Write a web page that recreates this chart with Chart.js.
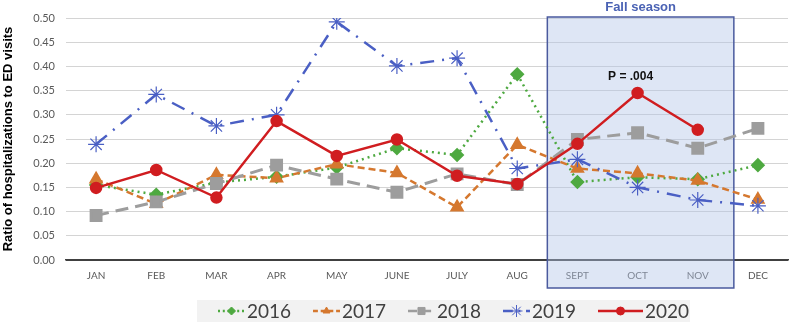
<!DOCTYPE html>
<html>
<head>
<meta charset="utf-8">
<script src="https://cdn.jsdelivr.net/npm/chart.js@4/dist/chart.umd.min.js"></script>
<style>
  html, body { margin: 0; padding: 0; background: #fff; overflow: hidden; }
  #wrap { width: 790px; height: 322px; position: relative; }
  #chart { display: block; }
</style>
</head>
<body>
<div id="wrap"><canvas id="chart"></canvas></div>
<script>
const months = ['JAN', 'FEB', 'MAR', 'APR', 'MAY', 'JUNE', 'JULY', 'AUG', 'SEPT', 'OCT', 'NOV', 'DEC'];

const y2016 = [0.155, 0.135, 0.160, 0.172, 0.191, 0.231, 0.217, 0.384, 0.161, 0.171, 0.167, 0.196];
const y2017 = [0.167, 0.116, 0.176, 0.169, 0.198, 0.180, 0.109, 0.238, 0.189, 0.179, 0.164, 0.125];
const y2018 = [0.092, 0.120, 0.158, 0.196, 0.167, 0.140, 0.178, 0.156, 0.249, 0.263, 0.231, 0.272];
const y2019 = [0.239, 0.342, 0.277, 0.300, 0.492, 0.401, 0.417, 0.189, 0.208, 0.150, 0.124, 0.112];
const y2020 = [0.149, 0.186, 0.129, 0.287, 0.215, 0.249, 0.174, 0.157, 0.240, 0.345, 0.269, null];

const yTicks = [0, 0.05, 0.10, 0.15, 0.20, 0.25, 0.30, 0.35, 0.40, 0.45, 0.50];

// fall season spans SEPT..NOV (category indexes)
const fallFrom = 7.5;
const fallTo = 10.6;
const pValueText = 'P = .004';
const pValueMonth = 9;

const tickFont = "Lato, 'Open Sans', sans-serif";

// shaded fall box + labels
const fallPlugin = {
  id: 'fall',
  beforeDatasetsDraw(chart) {
    const ctx = chart.ctx;
    const x = chart.scales.x, y = chart.scales.y;
    const l = x.getPixelForValue(fallFrom);
    const r = x.getPixelForValue(fallTo);
    const t = y.getPixelForValue(0.5) - 1;
    const b = y.getPixelForValue(0) + 28;
    ctx.save();
    ctx.fillStyle = 'rgba(176, 196, 232, 0.42)';
    ctx.fillRect(l, t, r - l, b - t);
    ctx.strokeStyle = '#4a5a9e';
    ctx.lineWidth = 1.5;
    ctx.strokeRect(l, t, r - l, b - t);
    ctx.fillStyle = '#4a62b4';
    ctx.font = "bold 13px 'Liberation Sans', Arial, sans-serif";
    ctx.textAlign = 'center';
    ctx.textBaseline = 'middle';
    ctx.fillText('Fall season', (l + r) / 2, 7);
    ctx.restore();
  },
  afterDatasetsDraw(chart) {
    const ctx = chart.ctx;
    const x = chart.scales.x, y = chart.scales.y;
    ctx.save();
    ctx.fillStyle = '#111';
    ctx.font = "bold 12px 'Liberation Sans', Arial, sans-serif";
    ctx.textAlign = 'center';
    ctx.textBaseline = 'middle';
    ctx.fillText(pValueText, x.getPixelForValue(pValueMonth) - 7, y.getPixelForValue(y2020[pValueMonth]) - 16);
    ctx.restore();
  }
};

// legend drawn by hand so it sits where the original one is
const legendPlugin = {
  id: 'legendBox',
  afterDraw(chart) {
    const ctx = chart.ctx;
    const sets = chart.data.datasets.slice().sort((a, b) => a.label.localeCompare(b.label));
    ctx.save();
    ctx.fillStyle = '#f2f2f2';
    ctx.fillRect(197, 300, 493, 22);
    let x = 218;
    const cy = 311;
    sets.forEach(ds => {
      const w = ds.borderDash && ds.borderDash.length ? 27 : 45;
      ctx.strokeStyle = ds.borderColor;
      ctx.lineWidth = 2.5;
      ctx.setLineDash((ds.borderDash || []).map(d => Math.max(d * 0.7, 2)));
      ctx.beginPath();
      ctx.moveTo(x, cy);
      ctx.lineTo(x + w, cy);
      ctx.stroke();
      ctx.setLineDash([]);
      ctx.fillStyle = ds.pointBackgroundColor;
      ctx.strokeStyle = ds.borderColor;
      ctx.lineWidth = 1;
      Chart.helpers.drawPoint(ctx, {
        pointStyle: ds.pointStyle,
        radius: ds.pointStyle === 'star' ? 6 : (ds.pointStyle === 'rect' ? 5 : 4),
        rotation: 0,
        borderWidth: 1
      }, x + w / 2, cy);
      ctx.fillStyle = '#404040';
      ctx.font = "19px Lato, 'Open Sans', sans-serif";
      ctx.textAlign = 'left';
      ctx.textBaseline = 'middle';
      ctx.fillText(ds.label, x + w + 2, cy + 1);
      x += 95;
    });
    ctx.restore();
  }
};

new Chart(document.getElementById('chart'), {
  type: 'line',
  data: {
    labels: months,
    datasets: [
      {
        label: '2016', data: y2016, order: 5,
        borderColor: '#4ea940', pointBackgroundColor: '#4ea940',
        borderWidth: 2.5, borderDash: [2, 4], pointStyle: 'rectRot', pointRadius: 5.5
      },
      {
        label: '2017', data: y2017, order: 4,
        borderColor: '#d5782f', pointBackgroundColor: '#d5782f',
        borderWidth: 2.5, borderDash: [7, 4], pointStyle: 'triangle', pointRadius: 6
      },
      {
        label: '2018', data: y2018, order: 3,
        borderColor: '#9d9d9d', pointBackgroundColor: '#9d9d9d',
        borderWidth: 3, borderDash: [13, 7], pointStyle: 'rect', pointRadius: 7
      },
      {
        label: '2019', data: y2019, order: 2,
        borderColor: '#4a5fc4', pointBackgroundColor: '#4a5fc4',
        borderWidth: 2.5, borderDash: [14, 8, 2, 8], pointStyle: 'star', pointRadius: 8, pointBorderWidth: 1.2
      },
      {
        label: '2020', data: y2020, order: 1,
        borderColor: '#d01d20', pointBackgroundColor: '#d01d20',
        borderWidth: 2.5, pointStyle: 'circle', pointRadius: 5
      }
    ]
  },
  options: {
    responsive: true,
    maintainAspectRatio: false,
    animation: false,
    spanGaps: false,
    layout: { autoPadding: false, padding: { top: 18, right: 2, left: 0, bottom: 24 } },
    elements: { line: { tension: 0, fill: false }, point: { borderWidth: 1 } },
    plugins: {
      legend: { display: false },
      tooltip: { enabled: false }
    },
    scales: {
      x: {
        offset: true,
        grid: { display: false, drawTicks: false },
        border: { display: true, color: '#404040', width: 1.5 },
        ticks: { color: '#595959', font: { family: tickFont, size: 10 }, padding: 10, maxRotation: 0 },
        afterFit: s => { s.height = 38; s.paddingLeft = 0; s.paddingRight = 0; }
      },
      y: {
        min: 0,
        max: 0.5,
        afterBuildTicks: s => { s.ticks = yTicks.map(v => ({ value: v })); },
        grid: {
          drawTicks: false,
          color: c => c.tick && c.tick.value === 0 ? '#404040' : '#d4d4d4',
          lineWidth: 1
        },
        border: { display: false },
        ticks: {
          color: '#595959',
          font: { family: tickFont, size: 11 },
          padding: 11,
          callback: v => Number(v).toFixed(2)
        },
        title: {
          display: true,
          text: 'Ratio of hospitalizations to ED visits',
          color: '#000',
          font: { family: "'Liberation Sans', Arial, sans-serif", size: 13, weight: 'bold' },
          padding: { top: 1, bottom: 0 }
        },
        afterFit: s => { s.width = 66; }
      }
    }
  },
  plugins: [fallPlugin, legendPlugin]
});
</script>
</body>
</html>
